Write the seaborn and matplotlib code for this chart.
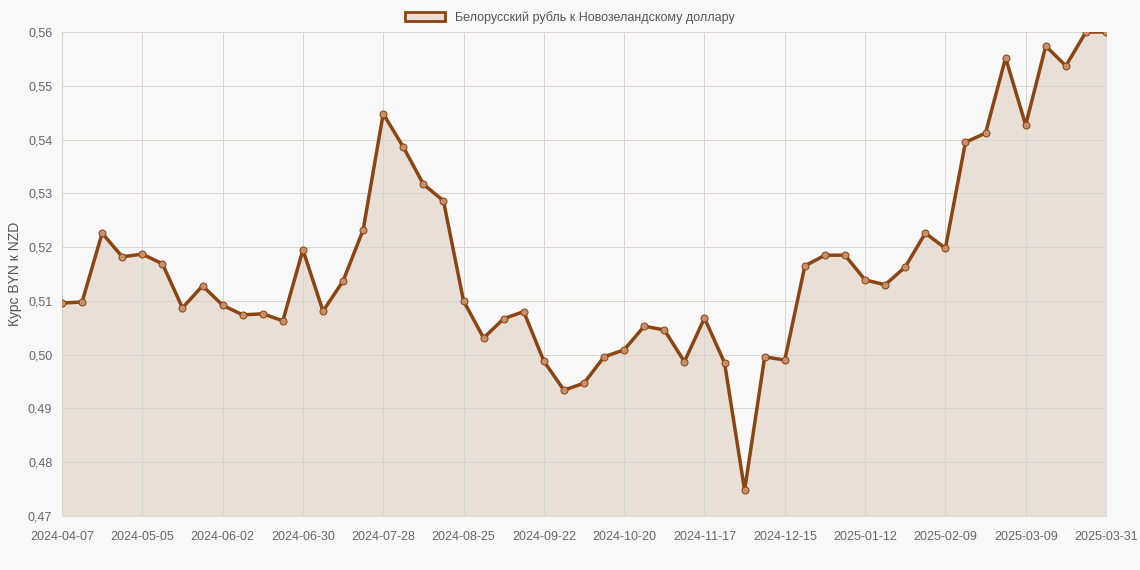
import matplotlib
matplotlib.use("Agg")
import matplotlib.pyplot as plt
import seaborn as sns
import pandas as pd
from matplotlib.patches import Patch

tick_labels = ["2024-04-07", "2024-05-05", "2024-06-02", "2024-06-30", "2024-07-28",
               "2024-08-25", "2024-09-22", "2024-10-20", "2024-11-17", "2024-12-15",
               "2025-01-12", "2025-02-09", "2025-03-09", "2025-03-31"]
rates = [0.5096, 0.5098, 0.5226, 0.5182, 0.5187, 0.5169, 0.5087, 0.5128, 0.5092, 0.5074,
         0.5076, 0.5063, 0.5195, 0.5081, 0.5137, 0.5232, 0.5448, 0.5386, 0.5317, 0.5286,
         0.5100, 0.5031, 0.5067, 0.5080, 0.4988, 0.4934, 0.4947, 0.4996, 0.5009, 0.5053,
         0.5046, 0.4987, 0.5068, 0.4985, 0.4748, 0.4996, 0.4990, 0.5165, 0.5185, 0.5185,
         0.5139, 0.5130, 0.5163, 0.5226, 0.5198, 0.5395, 0.5412, 0.5552, 0.5427, 0.5574,
         0.5537, 0.5600, 0.5600]
label = "Белорусский рубль к Новозеландскому доллару"

df = pd.DataFrame({"i": range(len(rates)), "rate": rates})
tick_pos = list(range(0, len(rates) - 1, 4)) + [len(rates) - 1]

sns.set_style("whitegrid")
plt.rcParams["font.family"] = ["Liberation Sans", "DejaVu Sans"]
brown = "#8b4513"

fig = plt.figure(figsize=(11.4, 5.7), dpi=100, facecolor="#f8f8f8")
ax = fig.add_axes([62 / 1140, 54 / 570, 1044 / 1140, 484 / 570])
ax.set_facecolor("#f8f8f8")
ax.fill_between(df["i"], df["rate"], 0.47, color="#e8e0d6", zorder=1)
sns.lineplot(data=df, x="i", y="rate", ax=ax, color=brown, linewidth=2.5, zorder=3,
             marker="o", markersize=5, markerfacecolor="#c8906a", markeredgecolor=brown)
ax.set_axisbelow(False)
ax.set_xlim(0, len(rates) - 1)
ax.set_ylim(0.47, 0.56)
ax.set_xticks(tick_pos)
ax.set_xticklabels(tick_labels)
yt = [0.47 + 0.01 * k for k in range(10)]
ax.set_yticks(yt)
ax.set_yticklabels([f"{v:.2f}".replace(".", ",") for v in yt])
ax.tick_params(colors="#666666", labelsize=9, length=0)
ax.tick_params(axis="x", pad=11)
ax.tick_params(axis="y", pad=7)
ax.grid(color="#d8d4d0", linewidth=0.7)
for s in ax.spines.values():
    s.set_color("#dddddd")
ax.set_xlabel("")
ax.set_ylabel("Курс BYN к NZD", color="#555555", fontsize=10)
fig.legend(handles=[Patch(facecolor="#e8e0d6", edgecolor=brown, linewidth=2, label=label)],
           loc="upper center", bbox_to_anchor=(0.5, 1.0), frameon=False, fontsize=9,
           labelcolor="#555555", handlelength=3.2)
fig.savefig("out.png", dpi=100, facecolor=fig.get_facecolor())
